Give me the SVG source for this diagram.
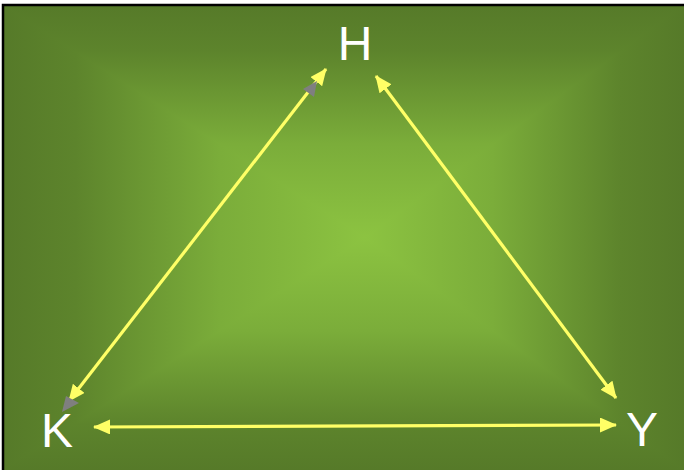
<svg xmlns="http://www.w3.org/2000/svg" width="684" height="470" viewBox="0 0 684 470">
<style>
.lbl{font-family:"Liberation Sans",Arial,sans-serif;font-size:48px;fill:#ffffff}
.conn{stroke:#ffff66;stroke-width:3.2;fill:none;marker-start:url(#ah);marker-end:url(#ah)}
.ghost{fill:#7f7f7f}
</style>
<defs>
<marker id="ah" markerUnits="userSpaceOnUse" markerWidth="17" markerHeight="15" refX="16" refY="7.5" orient="auto-start-reverse">
<path d="M0,0 L17,7.5 L0,15 Z" fill="#ffff66"/>
</marker>
<linearGradient id="gV" gradientUnits="userSpaceOnUse" x1="0" y1="5" x2="0" y2="470">
<stop offset="0" stop-color="#567a29"/><stop offset="0.1" stop-color="#5d842c"/><stop offset="0.3" stop-color="#7bad3a"/><stop offset="0.5" stop-color="#8cc341"/><stop offset="0.7" stop-color="#7bad3a"/><stop offset="0.9" stop-color="#5d842c"/><stop offset="1" stop-color="#567a29"/>
</linearGradient>
<linearGradient id="gLeft" gradientUnits="userSpaceOnUse" x1="3" y1="0" x2="365" y2="0">
<stop offset="0" stop-color="#567a29"/><stop offset="0.2" stop-color="#5d842c"/><stop offset="0.6" stop-color="#7bad3a"/><stop offset="1" stop-color="#8cc341"/>
</linearGradient>
<linearGradient id="gRight" gradientUnits="userSpaceOnUse" x1="684" y1="0" x2="365" y2="0">
<stop offset="0" stop-color="#567a29"/><stop offset="0.2" stop-color="#5d842c"/><stop offset="0.6" stop-color="#7bad3a"/><stop offset="1" stop-color="#8cc341"/>
</linearGradient>
</defs>
<rect x="0" y="0" width="684" height="470" fill="#ffffff"/>
<g id="background">
<rect x="3" y="5" width="681" height="465" fill="url(#gV)"/>
<polygon points="3,5 3,470 365,237.5" fill="url(#gLeft)"/>
<polygon points="684,5 684,470 365,237.5" fill="url(#gRight)"/>
<path d="M3,472 L3,5 L686,5" fill="none" stroke="#000000" stroke-width="2.5"/>
</g>
<g id="connectors">
<line class="conn" x1="326" y1="69" x2="69" y2="401"/>
<line class="conn" x1="376" y1="76" x2="616" y2="398"/>
<line class="conn" x1="94" y1="427" x2="616" y2="425"/>
<polygon class="ghost" points="303,89 317,81 314,97"/>
<polygon class="ghost" points="62,412 66,396 79,403"/>
</g>
<g id="node-H"><text class="lbl" x="355" y="60" text-anchor="middle">H</text></g>
<g id="node-K"><text class="lbl" x="57" y="447" text-anchor="middle">K</text></g>
<g id="node-Y"><text class="lbl" x="642" y="446" text-anchor="middle">Y</text></g>
</svg>
